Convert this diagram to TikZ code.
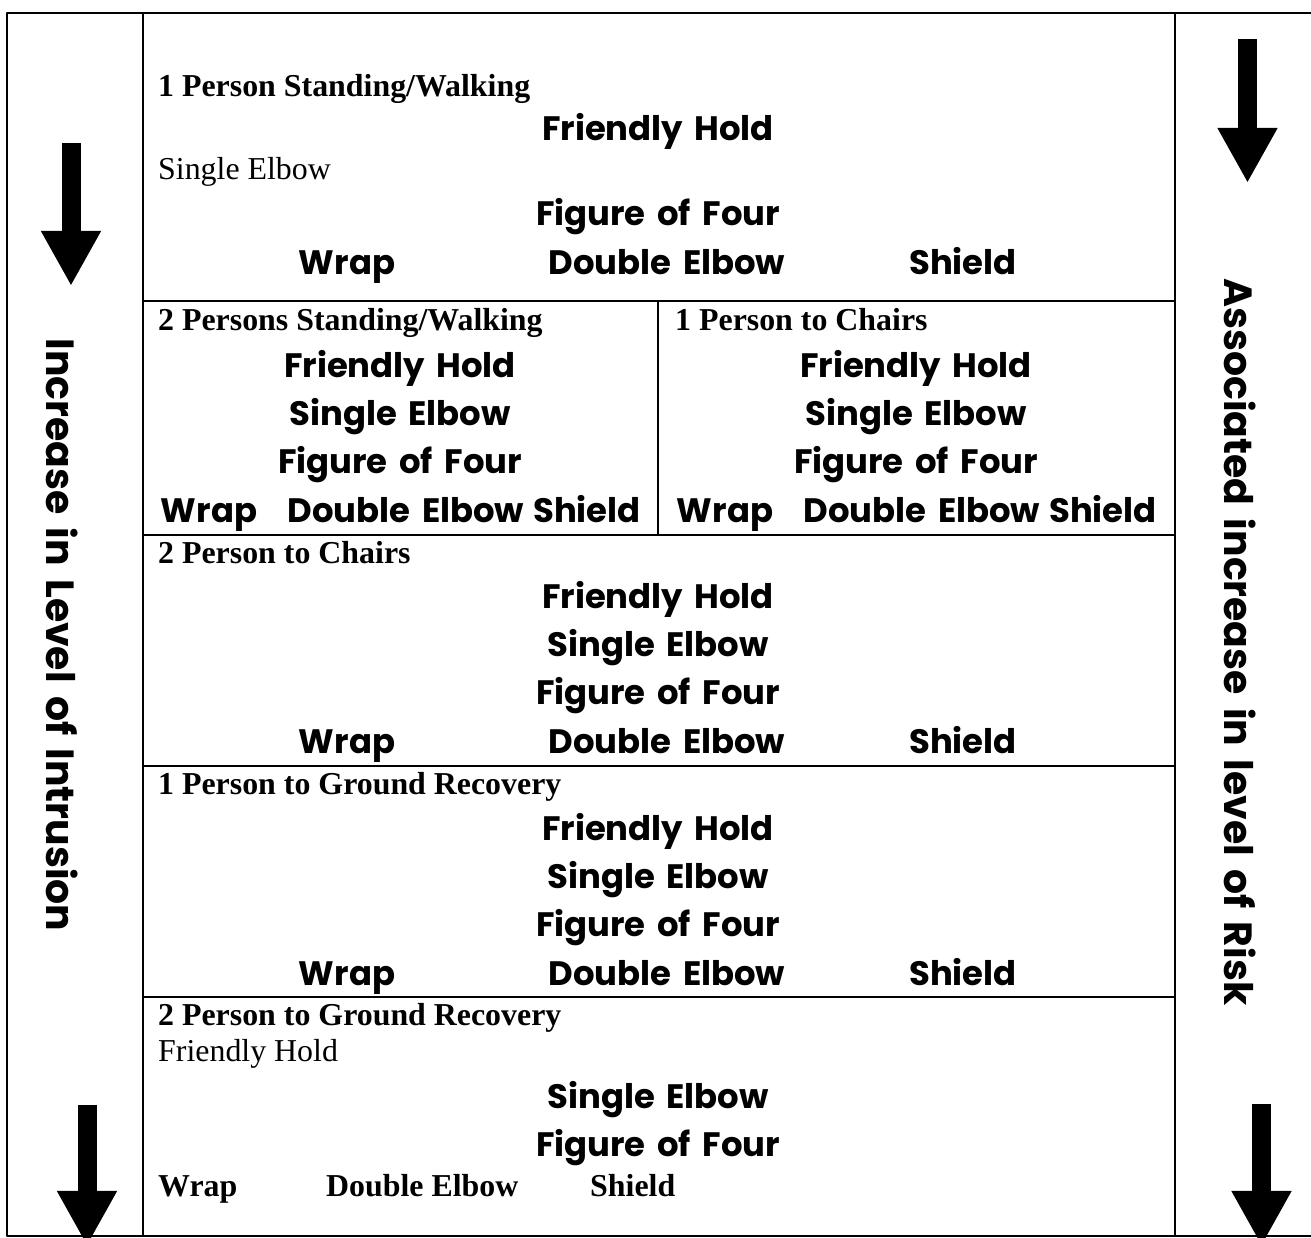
\documentclass[tikz,border=0pt]{standalone}
\usepackage{fontspec}
\setmainfont{Liberation Serif}
\newfontfamily\comicfont{Poppins}[WordSpace=1.6]
\usetikzlibrary{arrows.meta}
\begin{document}
\begin{tikzpicture}[>=latex,line join=bevel,
  hand/.style={font=\comicfont\bfseries\fontsize{34}{40}\selectfont,inner sep=0pt,anchor=base},
  sidetext/.style={font=\comicfont\bfseries\fontsize{39.5}{46}\selectfont,inner sep=0pt,anchor=center,rotate=-90},
  title/.style={font=\bfseries\fontsize{32}{38}\selectfont,inner sep=0pt,anchor=base west},
  plain/.style={font=\fontsize{32}{38}\selectfont,inner sep=0pt,anchor=base west},
  bigarrow/.style={line width=19bp,-{Triangle[length=55bp,width=56bp]}},
  frame/.style={line width=2.5bp},
  rule/.style={line width=2bp}]
%%
\useasboundingbox (0bp,0bp) rectangle (1311bp,1238bp);
%% frame and grid
\draw [frame] (1313bp,1225bp) -- (7bp,1225bp) -- (7bp,2bp) -- (1313bp,2bp);
  \draw [rule] (143bp,1225bp) -- (143bp,2bp);
  \draw [rule] (1175bp,1225bp) -- (1175bp,2bp);
  \draw [rule] (143bp,937bp) -- (1175bp,937bp);
  \draw [rule] (143bp,703bp) -- (1175bp,703bp);
  \draw [rule] (143bp,472bp) -- (1175bp,472bp);
  \draw [rule] (143bp,241bp) -- (1175bp,241bp);
  \draw [rule] (658bp,937bp) -- (658bp,703bp);
%% side arrows
\draw [bigarrow] (71bp,1095bp) -- (71bp,952bp);
  \draw [bigarrow] (87bp,133bp) -- (87bp,-8bp);
  \draw [bigarrow] (1247.5bp,1199bp) -- (1247.5bp,1055bp);
  \draw [bigarrow] (1261.5bp,134bp) -- (1261.5bp,-8bp);
  \node (intrusion) at (62bp,603bp) [sidetext] {Increase in Level of Intrusion};
  \node (risk) at (1240bp,596bp) [sidetext] {Associated increase in level of Risk};
%% row 1
\node (r1title) at (158bp,1141bp) [title] {1 Person Standing/Walking};
  \node (r1hold) at (658bp,1097bp) [hand] {Friendly Hold};
  \node (r1single) at (158bp,1058bp) [plain] {Single Elbow};
  \node (r1four) at (658bp,1012bp) [hand] {Figure of Four};
  \node (r1wrap) at (347bp,963bp) [hand] {Wrap};
  \node (r1double) at (667bp,963bp) [hand] {Double Elbow};
  \node (r1shield) at (963bp,963bp) [hand] {Shield};
%% row 2, left
\node (r2atitle) at (158bp,907bp) [title] {2 Persons Standing/Walking};
  \node (r2ahold) at (400bp,860bp) [hand] {Friendly Hold};
  \node (r2asingle) at (400bp,812bp) [hand] {Single Elbow};
  \node (r2afour) at (400bp,764bp) [hand] {Figure of Four};
  \node (r2awrap) at (209bp,715bp) [hand] {Wrap};
  \node (r2adouble) at (406bp,715bp) [hand] {Double Elbow};
  \node (r2ashield) at (587bp,715bp) [hand] {Shield};
%% row 2, right
\node (r2btitle) at (675bp,907bp) [title] {1 Person to Chairs};
  \node (r2bhold) at (916bp,860bp) [hand] {Friendly Hold};
  \node (r2bsingle) at (916bp,812bp) [hand] {Single Elbow};
  \node (r2bfour) at (916bp,764bp) [hand] {Figure of Four};
  \node (r2bwrap) at (725bp,715bp) [hand] {Wrap};
  \node (r2bdouble) at (922bp,715bp) [hand] {Double Elbow};
  \node (r2bshield) at (1103bp,715bp) [hand] {Shield};
%% row 3
\node (r3title) at (158bp,674bp) [title] {2 Person to Chairs};
  \node (r3hold) at (658bp,629bp) [hand] {Friendly Hold};
  \node (r3single) at (658bp,581bp) [hand] {Single Elbow};
  \node (r3four) at (658bp,533bp) [hand] {Figure of Four};
  \node (r3wrap) at (347bp,484bp) [hand] {Wrap};
  \node (r3double) at (667bp,484bp) [hand] {Double Elbow};
  \node (r3shield) at (963bp,484bp) [hand] {Shield};
%% row 4
\node (r4title) at (158bp,443bp) [title] {1 Person to Ground Recovery};
  \node (r4hold) at (658bp,397bp) [hand] {Friendly Hold};
  \node (r4single) at (658bp,349bp) [hand] {Single Elbow};
  \node (r4four) at (658bp,301bp) [hand] {Figure of Four};
  \node (r4wrap) at (347bp,252bp) [hand] {Wrap};
  \node (r4double) at (667bp,252bp) [hand] {Double Elbow};
  \node (r4shield) at (963bp,252bp) [hand] {Shield};
%% row 5
\node (r5title) at (158bp,212bp) [title] {2 Person to Ground Recovery};
  \node (r5hold) at (158bp,176bp) [plain] {Friendly Hold};
  \node (r5single) at (658bp,129bp) [hand] {Single Elbow};
  \node (r5four) at (658bp,81bp) [hand] {Figure of Four};
  \node (r5wrap) at (158bp,41bp) [title] {Wrap};
  \node (r5double) at (326bp,41bp) [title] {Double Elbow};
  \node (r5shield) at (590bp,41bp) [title] {Shield};
%
\end{tikzpicture}
\end{document}
